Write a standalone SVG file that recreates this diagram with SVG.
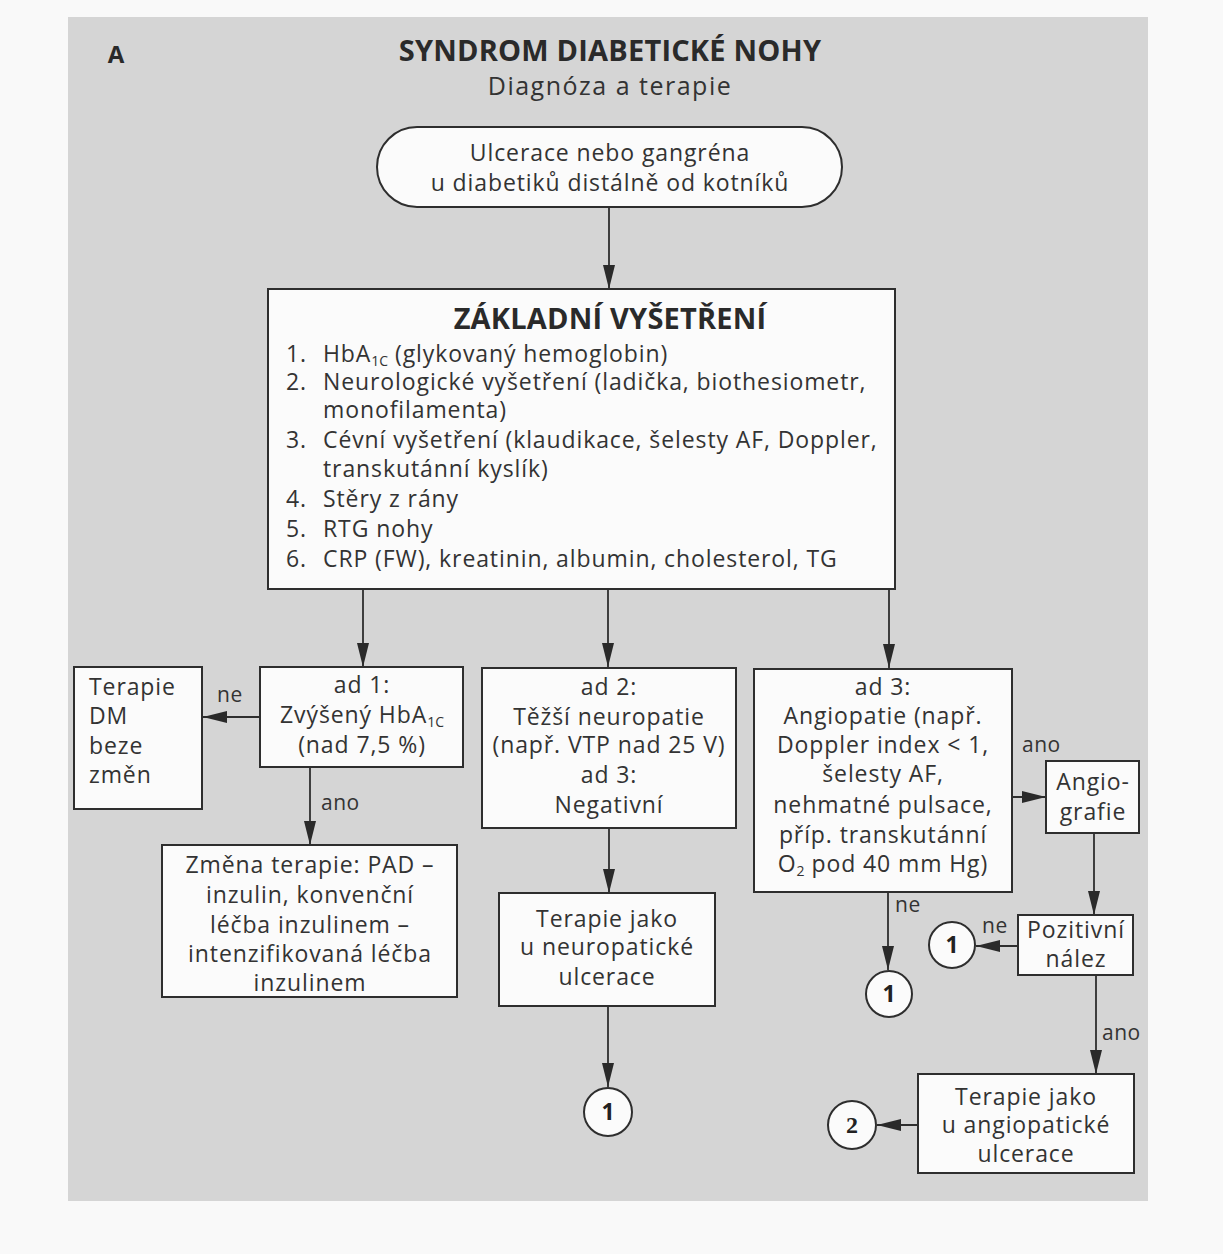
<svg xmlns="http://www.w3.org/2000/svg" width="1223" height="1254" viewBox="0 0 1223 1254">
<defs>
<marker id="ah" markerWidth="24" markerHeight="12" refX="24" refY="6" orient="auto" markerUnits="userSpaceOnUse">
<path d="M0,0 L24,6 L0,12 Z" fill="#2a2a2a"/>
</marker>
</defs>
<style>
.box{fill:#fbfbfb;stroke:#2e2e2e;stroke-width:2}
.t{font-family:"Open Sans","DejaVu Sans",sans-serif;font-size:23px;letter-spacing:0.9px;fill:#333}
.c{text-anchor:middle}
.lbl{font-family:"Open Sans","DejaVu Sans",sans-serif;font-size:21px;letter-spacing:0.5px;fill:#333}
.ln{fill:none;stroke:#2e2e2e;stroke-width:1.8;marker-end:url(#ah)}
.circ{fill:#fbfbfb;stroke:#2e2e2e;stroke-width:2}
.num{font-family:"Open Sans","DejaVu Sans",sans-serif;font-size:23px;font-weight:bold;fill:#222;text-anchor:middle}
.sub{font-size:14px;letter-spacing:0}
.title{font-family:"Open Sans","DejaVu Sans",sans-serif;font-size:29px;font-weight:bold;letter-spacing:0.2px;fill:#2a2a2a;text-anchor:middle}
</style>
<rect x="0" y="0" width="1223" height="1254" fill="#f9f9f9"/>
<rect x="68" y="17" width="1080" height="1184" fill="#d5d5d5"/>

<g id="header">
<text x="116" y="63" font-family="Open Sans, sans-serif" font-size="24" font-weight="bold" fill="#2a2a2a" text-anchor="middle">A</text>
<text x="610" y="61" class="title">SYNDROM DIABETICKÉ NOHY</text>
<text x="610" y="95" class="t c" style="font-size:25px;letter-spacing:1.5px">Diagnóza a terapie</text>
</g>

<g id="connectors">
<line class="ln" x1="609" y1="207" x2="609" y2="289"/>
<line class="ln" x1="363" y1="589" x2="363" y2="667"/>
<line class="ln" x1="608" y1="589" x2="608" y2="667"/>
<line class="ln" x1="889" y1="589" x2="889" y2="668"/>
<line class="ln" x1="260" y1="717" x2="203" y2="717"/>
<line class="ln" x1="310" y1="767" x2="310" y2="845"/>
<line class="ln" x1="609" y1="828" x2="609" y2="893"/>
<line class="ln" x1="608" y1="1006" x2="608" y2="1087"/>
<line class="ln" x1="1012" y1="797" x2="1046" y2="797"/>
<line class="ln" x1="1094" y1="833" x2="1094" y2="915"/>
<line class="ln" x1="1018" y1="946" x2="976" y2="946"/>
<line class="ln" x1="888" y1="892" x2="888" y2="970"/>
<line class="ln" x1="1096" y1="975" x2="1096" y2="1074"/>
<line class="ln" x1="918" y1="1125" x2="877" y2="1125"/>
<text class="lbl" x="217" y="702">ne</text>
<text class="lbl" x="321" y="810">ano</text>
<text class="lbl" x="1022" y="752">ano</text>
<text class="lbl" x="895" y="912">ne</text>
<text class="lbl" x="982" y="933">ne</text>
<text class="lbl" x="1102" y="1040">ano</text>
</g>

<g id="start">
<rect class="box" x="377" y="127" width="465" height="80" rx="40" ry="40"/>
<text class="t c" x="610" y="161">Ulcerace nebo gangréna</text>
<text class="t c" x="610" y="191">u diabetiků distálně od kotníků</text>
</g>

<g id="zakladni">
<rect class="box" x="268" y="289" width="627" height="300"/>
<text class="title" x="610" y="329">ZÁKLADNÍ VYŠETŘENÍ</text>
<text class="t" x="286" y="362">1.</text><text class="t" x="323" y="362">HbA<tspan class="sub" dy="4">1C</tspan><tspan dy="-4"> (glykovaný hemoglobin)</tspan></text>
<text class="t" x="286" y="390">2.</text><text class="t" x="323" y="390">Neurologické vyšetření (ladička, biothesiometr,</text>
<text class="t" x="323" y="418">monofilamenta)</text>
<text class="t" x="286" y="448">3.</text><text class="t" x="323" y="448">Cévní vyšetření (klaudikace, šelesty AF, Doppler,</text>
<text class="t" x="323" y="477">transkutánní kyslík)</text>
<text class="t" x="286" y="507">4.</text><text class="t" x="323" y="507">Stěry z rány</text>
<text class="t" x="286" y="537">5.</text><text class="t" x="323" y="537">RTG nohy</text>
<text class="t" x="286" y="567">6.</text><text class="t" x="323" y="567">CRP (FW), kreatinin, albumin, cholesterol, TG</text>
</g>

<g id="terapie-dm">
<rect class="box" x="74" y="667" width="128" height="142"/>
<text class="t" x="89" y="695">Terapie</text>
<text class="t" x="89" y="724">DM</text>
<text class="t" x="89" y="754">beze</text>
<text class="t" x="89" y="783">změn</text>
</g>

<g id="ad1">
<rect class="box" x="260" y="667" width="203" height="100"/>
<text class="t c" x="362" y="693">ad 1:</text>
<text class="t c" x="362" y="723">Zvýšený HbA<tspan class="sub" dy="4">1C</tspan></text>
<text class="t c" x="362" y="753">(nad 7,5 %)</text>
</g>

<g id="zmena">
<rect class="box" x="162" y="845" width="295" height="152"/>
<text class="t c" x="310" y="873">Změna terapie: PAD –</text>
<text class="t c" x="310" y="903">inzulin, konvenční</text>
<text class="t c" x="310" y="933">léčba inzulinem –</text>
<text class="t c" x="310" y="962">intenzifikovaná léčba</text>
<text class="t c" x="310" y="991">inzulinem</text>
</g>

<g id="ad2">
<rect class="box" x="482" y="668" width="254" height="160"/>
<text class="t c" x="609" y="695">ad 2:</text>
<text class="t c" x="609" y="725">Těžší neuropatie</text>
<text class="t c" x="609" y="753">(např. VTP nad 25 V)</text>
<text class="t c" x="609" y="783">ad 3:</text>
<text class="t c" x="609" y="813">Negativní</text>
</g>

<g id="neuro">
<rect class="box" x="499" y="893" width="216" height="113"/>
<text class="t c" x="607" y="927">Terapie jako</text>
<text class="t c" x="607" y="955">u neuropatické</text>
<text class="t c" x="607" y="985">ulcerace</text>
</g>

<g id="c1a">
<circle class="circ" cx="608" cy="1112" r="24"/>
<text class="num" x="608" y="1120">1</text>
</g>

<g id="ad3">
<rect class="box" x="754" y="669" width="258" height="223"/>
<text class="t c" x="883" y="695">ad 3:</text>
<text class="t c" x="883" y="724">Angiopatie (např.</text>
<text class="t c" x="883" y="753">Doppler index &lt; 1,</text>
<text class="t c" x="883" y="782">šelesty AF,</text>
<text class="t c" x="883" y="813">nehmatné pulsace,</text>
<text class="t c" x="883" y="843">příp. transkutánní</text>
<text class="t c" x="883" y="872">O<tspan class="sub" dy="4">2</tspan><tspan dy="-4"> pod 40 mm Hg)</tspan></text>
</g>

<g id="angio">
<rect class="box" x="1046" y="761" width="93" height="72"/>
<text class="t c" x="1093" y="790">Angio-</text>
<text class="t c" x="1093" y="820">grafie</text>
</g>

<g id="pozitivni">
<rect class="box" x="1018" y="915" width="115" height="60"/>
<text class="t c" x="1076" y="938">Pozitivní</text>
<text class="t c" x="1076" y="967">nález</text>
</g>

<g id="c1b">
<circle class="circ" cx="952" cy="945" r="23"/>
<text class="num" x="952" y="953">1</text>
</g>

<g id="c1c">
<circle class="circ" cx="889" cy="994" r="23"/>
<text class="num" x="889" y="1002">1</text>
</g>

<g id="angioterapie">
<rect class="box" x="918" y="1074" width="216" height="99"/>
<text class="t c" x="1026" y="1105">Terapie jako</text>
<text class="t c" x="1026" y="1133">u angiopatické</text>
<text class="t c" x="1026" y="1162">ulcerace</text>
</g>

<g id="c2">
<circle class="circ" cx="852" cy="1125" r="24"/>
<text x="852" y="1133" font-family="Liberation Serif, serif" font-size="24" font-weight="bold" fill="#222" text-anchor="middle">2</text>
</g>
</svg>
